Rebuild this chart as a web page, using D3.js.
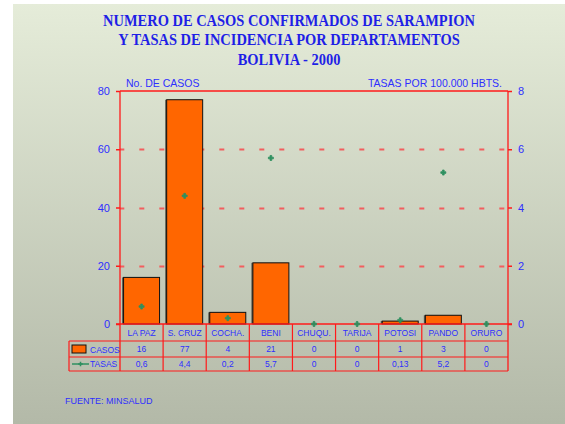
<!DOCTYPE html>
<head>
  <meta charset="utf-8">
  <title>Sarampion Bolivia 2000</title>
  <script src="https://d3js.org/d3.v7.min.js"></script>
  <style>
    body { margin: 0; background: #fff; }
    text { font-family: Arial, "Liberation Sans", sans-serif; }
  </style>
</head>
<body>
<script>
  // datos
  var departamentos = ["LA PAZ", "S. CRUZ", "COCHA.", "BENI", "CHUQU.", "TARIJA", "POTOSI", "PANDO", "ORURO"];
  var casos = [16, 77, 4, 21, 0, 0, 1, 3, 0];
  var tasas = [0.6, 4.4, 0.2, 5.7, 0, 0, 0.13, 5.2, 0];
  var casosLabels = ["16", "77", "4", "21", "0", "0", "1", "3", "0"];
  var tasasLabels = ["0,6", "4,4", "0,2", "5,7", "0", "0", "0,13", "5,2", "0"];
  var leftTicks = [0, 20, 40, 60, 80];
  var rightTicks = [0, 2, 4, 6, 8];
  var titulo = ["NUMERO DE CASOS CONFIRMADOS DE SARAMPION",
                "Y TASAS DE INCIDENCIA POR DEPARTAMENTOS",
                "BOLIVIA - 2000"];

  var W = 565, H = 424;
  var blue = "#2f2fff", red = "#ff1a1a", green = "#2e9060", orange = "#ff6600";
  var pL = 120, pR = 508, pT = 91, pZero = 324;
  var rowY = [324, 341, 357, 371];

  var svg = d3.select("body").append("svg")
    .attr("width", W).attr("height", H);

  var grad = svg.append("defs").append("linearGradient")
    .attr("id", "bg").attr("x1", 0).attr("y1", 0).attr("x2", 0).attr("y2", 1);
  grad.append("stop").attr("offset", "0%").attr("stop-color", "#e5ecd9");
  grad.append("stop").attr("offset", "100%").attr("stop-color", "#b3b9a8");

  svg.append("rect").attr("x", 13).attr("y", 4).attr("width", W - 13).attr("height", H - 4)
    .attr("fill", "url(#bg)");

  // titulo (letra algo condensada como en el original)
  svg.append("g").attr("transform", "translate(289,0) scale(0.85,1)")
    .selectAll("text").data(titulo).enter().append("text")
    .attr("x", 0).attr("y", function(d, i) { return 26 + i * 19.3; })
    .attr("text-anchor", "middle")
    .style("font-family", "'Liberation Serif', 'Times New Roman', serif")
    .attr("font-size", 17).attr("font-weight", "bold").attr("fill", "#1f1fe6")
    .text(function(d) { return d; });

  var x = d3.scaleBand().domain(departamentos).range([pL, pR]);
  var yL = d3.scaleLinear().domain([0, 80]).range([pZero, pT]);
  var yR = d3.scaleLinear().domain([0, 8]).range([pZero, pT]);

  // rejilla
  svg.append("g").selectAll("line").data([20, 40, 60]).enter().append("line")
    .attr("x1", pL).attr("x2", pR)
    .attr("y1", function(d) { return Math.round(yL(d)) + 0.5; })
    .attr("y2", function(d) { return Math.round(yL(d)) + 0.5; })
    .attr("stroke", "#f25e5e").attr("stroke-width", 2).attr("stroke-dasharray", "5,15")
    .attr("stroke-dashoffset", 0.7);

  // barras
  var bw = x.bandwidth() * 0.835;
  var off = (x.bandwidth() - bw) / 2;
  var bars = svg.append("g");
  bars.selectAll("rect.sh").data(departamentos).enter().append("rect")
    .attr("x", function(d) { return x(d) + off - 1.5; })
    .attr("y", function(d, i) { return yL(casos[i]); })
    .attr("width", bw).attr("height", function(d, i) { return pZero - yL(casos[i]); })
    .attr("fill", "#5a5a50")
    .style("display", function(d, i) { return casos[i] > 0 ? null : "none"; });
  bars.selectAll("rect.bar").data(departamentos).enter().append("rect")
    .attr("x", function(d) { return x(d) + off; })
    .attr("y", function(d, i) { return yL(casos[i]); })
    .attr("width", bw).attr("height", function(d, i) { return pZero - yL(casos[i]); })
    .attr("fill", orange).attr("stroke", "#111").attr("stroke-width", 1)
    .style("display", function(d, i) { return casos[i] > 0 ? null : "none"; });

  // ejes
  var axes = svg.append("g").attr("stroke", red).attr("stroke-width", 1.3);
  axes.append("line").attr("x1", pL).attr("x2", pR).attr("y1", pT).attr("y2", pT);
  axes.append("line").attr("x1", pL - 4).attr("x2", pR + 4).attr("y1", pZero).attr("y2", pZero);
  axes.append("line").attr("x1", pL).attr("x2", pL).attr("y1", pT).attr("y2", rowY[3]);
  axes.append("line").attr("x1", pR).attr("x2", pR).attr("y1", pT).attr("y2", rowY[3]);

  var yAxisL = d3.axisLeft(yL).tickValues(leftTicks).tickSize(4).tickPadding(6);
  var gl = svg.append("g").attr("transform", "translate(" + pL + ",0)").call(yAxisL);
  var yAxisR = d3.axisRight(yR).tickValues(rightTicks).tickSize(4).tickPadding(6);
  var gr = svg.append("g").attr("transform", "translate(" + pR + ",0)").call(yAxisR);
  [gl, gr].forEach(function(g) {
    g.select(".domain").remove();
    g.selectAll("line").attr("stroke", red).attr("stroke-width", 1.5);
    g.selectAll("text").attr("fill", blue).attr("font-size", 11)
      .attr("font-family", "Arial, 'Liberation Sans', sans-serif");
  });

  svg.append("text").attr("x", 126).attr("y", 87).attr("fill", blue).attr("font-size", 10.5)
    .text("No. DE CASOS");
  svg.append("text").attr("x", 502).attr("y", 87).attr("fill", blue).attr("font-size", 10.5)
    .attr("text-anchor", "end").text("TASAS POR 100.000 HBTS.");

  // puntos de tasas
  svg.append("g").selectAll("path").data(departamentos).enter().append("path")
    .attr("transform", function(d, i) {
      return "translate(" + (x(d) + x.bandwidth() / 2) + "," + yR(tasas[i]) + ")";
    })
    .attr("d", d3.symbol().type(d3.symbolCross).size(14))
    .attr("fill", green).attr("stroke", green).attr("stroke-width", 0.8);

  // tabla de datos
  var tbl = svg.append("g").attr("stroke", red).attr("stroke-width", 1.2);
  tbl.append("line").attr("x1", 69).attr("x2", pR).attr("y1", rowY[1]).attr("y2", rowY[1]);
  tbl.append("line").attr("x1", 69).attr("x2", pR).attr("y1", rowY[2]).attr("y2", rowY[2]);
  tbl.append("line").attr("x1", 69).attr("x2", pR).attr("y1", rowY[3]).attr("y2", rowY[3]);
  tbl.append("line").attr("x1", 69).attr("x2", 69).attr("y1", rowY[1]).attr("y2", rowY[3]);
  tbl.selectAll("line.v").data(departamentos.slice(1)).enter().append("line")
    .attr("x1", function(d) { return x(d); }).attr("x2", function(d) { return x(d); })
    .attr("y1", rowY[0]).attr("y2", rowY[3]);

  var rows = [departamentos, casosLabels, tasasLabels];
  rows.forEach(function(r, k) {
    svg.append("g").selectAll("text").data(r).enter().append("text")
      .attr("x", function(d, i) { return x(departamentos[i]) + x.bandwidth() / 2; })
      .attr("y", (rowY[k] + rowY[k + 1]) / 2 + 3)
      .attr("text-anchor", "middle").attr("fill", blue).attr("font-size", 8.5)
      .text(function(d) { return d; });
  });

  // leyenda
  svg.append("rect").attr("x", 72).attr("y", 345).attr("width", 14).attr("height", 8)
    .attr("fill", orange).attr("stroke", "#111").attr("stroke-width", 1);
  svg.append("text").attr("x", 90).attr("y", 352.5).attr("fill", blue).attr("font-size", 8.5).text("CASOS");
  svg.append("line").attr("x1", 72).attr("x2", 89).attr("y1", 364).attr("y2", 364)
    .attr("stroke", green).attr("stroke-width", 1.5);
  svg.append("path").attr("transform", "translate(80.5,364)")
    .attr("d", d3.symbol().type(d3.symbolCross).size(12)).attr("fill", green);
  svg.append("text").attr("x", 90).attr("y", 367).attr("fill", blue).attr("font-size", 8.5).text("TASAS");

  svg.append("text").attr("x", 65).attr("y", 404).attr("fill", blue).attr("font-size", 9)
    .text("FUENTE: MINSALUD");
</script>
</body>
